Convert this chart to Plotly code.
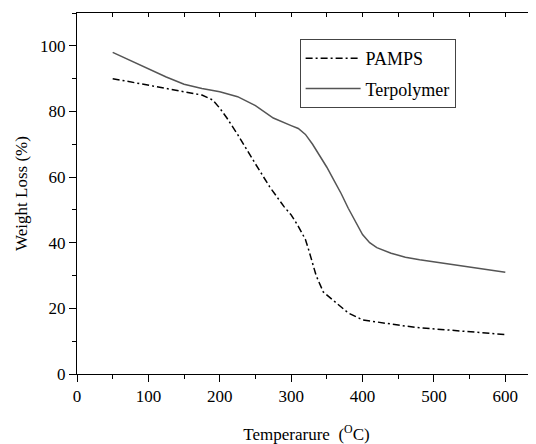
import plotly.graph_objects as go

pamps_t = [50, 75, 100, 125, 150, 175, 190, 200, 210, 225, 250, 270, 290, 300, 310, 320, 325, 335, 345, 358, 380, 400, 425, 450, 475, 500, 525, 550, 575, 600]
pamps_w = [90, 89, 88, 87, 86, 85, 83.5, 81, 78, 73, 64, 57, 51, 48.5, 45, 41, 37.5, 30, 25, 22.6, 18.6, 16.5, 15.6, 14.9, 14.2, 13.8, 13.3, 12.9, 12.4, 12]

terp_t = [50, 75, 100, 125, 150, 175, 200, 225, 250, 275, 300, 310, 320, 330, 340, 350, 360, 370, 380, 390, 400, 410, 420, 440, 460, 480, 500, 550, 600]
terp_w = [98, 95.5, 93, 90.5, 88.3, 87, 86, 84.5, 81.8, 78, 75.7, 74.8, 73, 70, 66.5, 63, 59, 55, 50.5, 46.5, 42.5, 40, 38.5, 36.8, 35.6, 34.8, 34.2, 32.6, 31]

x_ticks = [0, 100, 200, 300, 400, 500, 600]
y_ticks = [0, 20, 40, 60, 80, 100]

font = "Liberation Serif"
fs = 17

fig = go.Figure()
fig.add_trace(go.Scatter(x=pamps_t, y=pamps_w, mode="lines", name="PAMPS", legendgroup="a",
                         line=dict(color="black", width=1.5, dash="7px,3px,2px,3px")))
fig.add_trace(go.Scatter(x=terp_t, y=terp_w, mode="lines", name="Terpolymer", legendgroup="b",
                         line=dict(color="#555555", width=1.5)))
# invisible trace to carry the top axis
fig.add_trace(go.Scatter(x=[0], y=[0], xaxis="x2", mode="markers", marker=dict(opacity=0),
                         showlegend=False, hoverinfo="skip"))

# the page body adds an 8px margin; compensate with a slightly smaller figure
fig.update_layout(
    width=528, height=436,
    margin=dict(l=69, r=0, t=5, b=70),
    paper_bgcolor="white", plot_bgcolor="white",
    font=dict(family=font, size=fs, color="black"),
    showlegend=True,
    legend=dict(x=0.485, y=0.928, xanchor="left", yanchor="top",
                bordercolor="#444444", borderwidth=1, bgcolor="white",
                itemwidth=55,
                font=dict(family=font, size=18), tracegroupgap=4),
    xaxis=dict(range=[0, 643], tickvals=x_ticks, ticks="outside", ticklen=7,
               tickcolor="black", showline=True, linecolor="black", linewidth=1,
               showgrid=False, zeroline=False, automargin=False,
               minor=dict(dtick=50, ticks="outside", ticklen=4, tickcolor="black"),
               title=dict(text="Temperarure  (<sup>O</sup>C)", standoff=24,
                          font=dict(family=font, size=fs)),
               tickfont=dict(family=font, size=fs)),
    xaxis2=dict(overlaying="x", side="top", matches="x", range=[0, 643],
                tickvals=x_ticks, ticks="inside", ticklen=4, tickcolor="black",
                showticklabels=False, showline=True, linecolor="black", linewidth=1,
                showgrid=False, zeroline=False, automargin=False,
                minor=dict(dtick=50, ticks="inside", ticklen=4, tickcolor="black")),
    yaxis=dict(range=[0, 110], tickvals=y_ticks, ticks="outside", ticklen=7,
               tickcolor="black", showline=True, linecolor="black", linewidth=1,
               showgrid=False, zeroline=False, automargin=False,
               minor=dict(dtick=10, ticks="outside", ticklen=4, tickcolor="black"),
               title=dict(text="Weight Loss (%)", standoff=8,
                          font=dict(family=font, size=fs)),
               tickfont=dict(family=font, size=fs)),
)

fig.write_html("out.html")
